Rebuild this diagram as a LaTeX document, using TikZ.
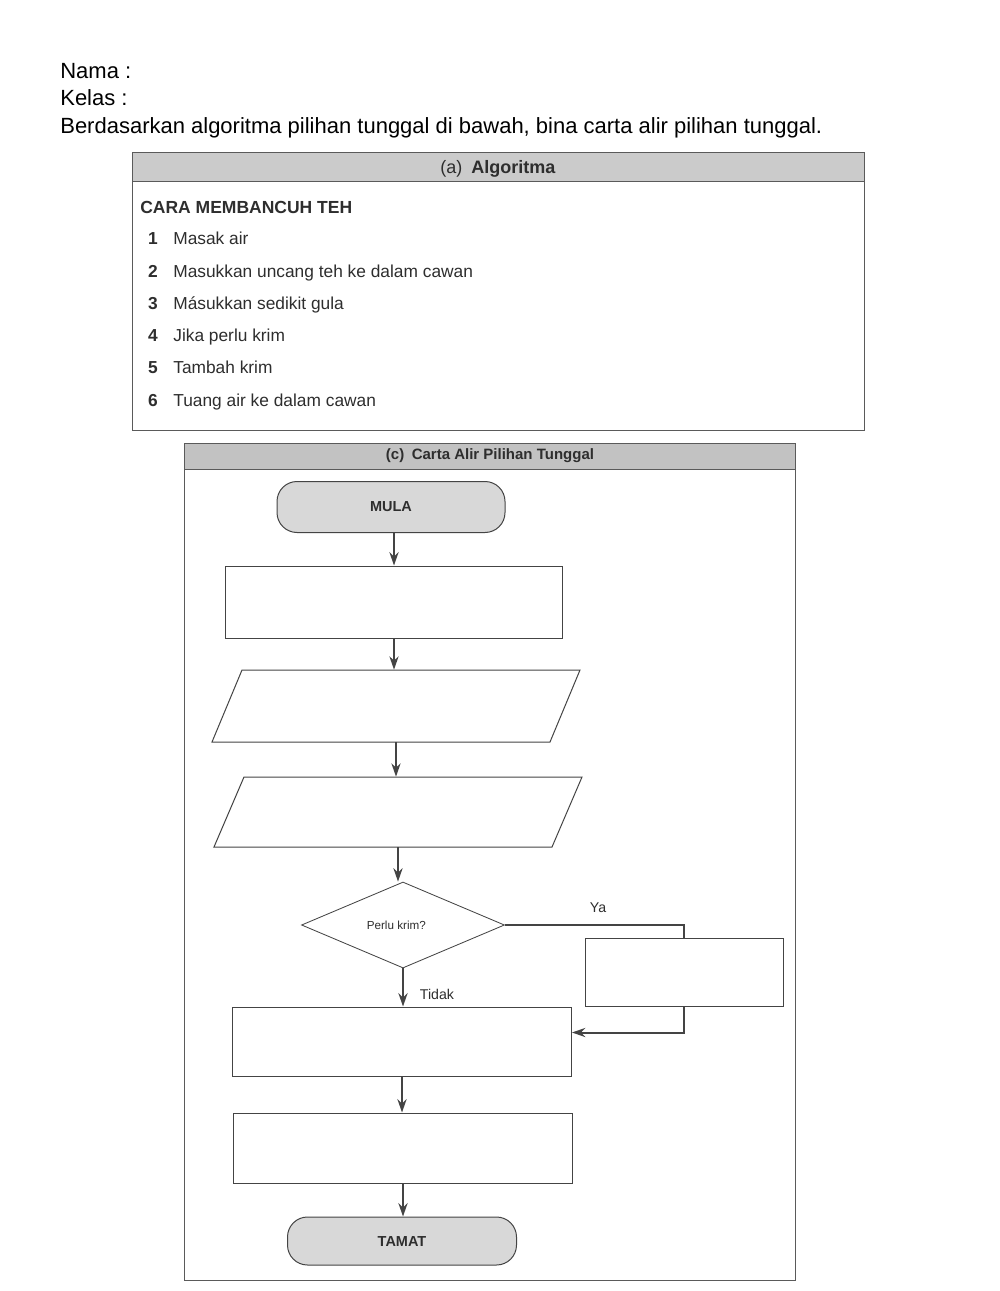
\documentclass[tikz,border=0pt]{standalone}
\usepackage{fontspec}
\setmainfont{Liberation Sans}
\usetikzlibrary{shapes.geometric,arrows.meta,calc}
\definecolor{linec}{HTML}{444444}
\definecolor{framec}{HTML}{5A5A5A}
\definecolor{textc}{HTML}{2E2E2E}
\definecolor{headA}{HTML}{CBCBCB}
\definecolor{headC}{HTML}{C2C2C2}
\definecolor{termfill}{HTML}{D8D8D8}
\tikzset{
  boxline/.style={draw=linec, line width=0.6pt},
  frameline/.style={draw=framec, line width=0.6pt},
  procbox/.style={draw=linec, line width=0.6pt, fill=white, inner sep=0pt},
  termbox/.style={draw=linec, line width=0.6pt, fill=termfill, rounded corners=12pt, inner sep=0pt,
     text=textc, font=\fontsize{8.7}{10}\selectfont\bfseries},
  decbox/.style={diamond, draw=linec, line width=0.5pt, fill=white, inner sep=0pt,
     text=textc, font=\fontsize{7}{8}\selectfont},
  anchorbox/.style={inner sep=0pt, draw=none},
  flowarr/.style={draw=linec, line width=1.2pt, -{Stealth[length=8pt,width=5.5pt]}},
  flowline/.style={draw=linec, line width=1.2pt},
  itemtxt/.style={anchor=mid west, inner sep=0pt, text=textc, font=\fontsize{10.4}{12}\selectfont},
  itemnum/.style={anchor=mid, inner sep=0pt, text=textc, font=\fontsize{10.4}{12}\selectfont\bfseries},
  toptxt/.style={anchor=mid west, inner sep=0pt, text=black, font=\fontsize{13.2}{16}\selectfont},
  lbltxt/.style={inner sep=0pt, text=textc, font=\fontsize{8.5}{10}\selectfont},
}
\begin{document}
\begin{tikzpicture}[x=0.6pt, y=-0.6pt]
\useasboundingbox (0,0) rectangle (1000,1291);
\fill[white] (0,0) rectangle (1000,1291);

% header text
\node[toptxt] (nama) at (60,74) {Nama :};
\node[toptxt] (kelas) at (60,101) {Kelas :};
\node[toptxt] (instr) at (60,129) {Berdasarkan algoritma pilihan tunggal di bawah, bina carta alir pilihan tunggal.};

% algorithm box
\fill[headA] (132,153) rectangle (864,182);
\draw[frameline] (132,182) -- (864,182);
\draw[frameline] (132,153) rectangle (864,430);
\node[inner sep=0pt, text=textc, font=\fontsize{10.8}{12}\selectfont] (algtitle) at (498,169) {(a)\enspace\textbf{Algoritma}};
\node[anchor=mid west, inner sep=0pt, text=textc, font=\fontsize{10.5}{12}\selectfont\bfseries] (cara) at (140,209) {CARA MEMBANCUH TEH};
\node[itemnum] (n1) at (153,240) {1};
\node[itemtxt] (t1) at (173,240) {Masak air};
\node[itemnum] (n2) at (153,273) {2};
\node[itemtxt] (t2) at (173,273) {Masukkan uncang  teh ke dalam cawan};
\node[itemnum] (n3) at (153,305) {3};
\node[itemtxt] (t3) at (173,305) {Másukkan sedikit gula};
\node[itemnum] (n4) at (153,337) {4};
\node[itemtxt] (t4) at (173,337) {Jika perlu krim};
\node[itemnum] (n5) at (153,369) {5};
\node[itemtxt] (t5) at (173,369) {Tambah krim};
\node[itemnum] (n6) at (153,402) {6};
\node[itemtxt] (t6) at (173,402) {Tuang air ke dalam cawan};

% flowchart frame
\fill[headC] (184,443) rectangle (795,469);
\draw[frameline] (184,469) -- (795,469);
\draw[frameline] (184,443) rectangle (795,1280);
\node[inner sep=0pt, text=textc, font=\fontsize{9}{11}\selectfont\bfseries] (fctitle) at (490,456) {(c)\enspace Carta Alir Pilihan Tunggal};

% nodes
\node[termbox, minimum width=136.8pt, minimum height=30.6pt] (mula) at (391,507) {MULA};
\node[procbox, minimum width=202.2pt, minimum height=43.2pt] (r1) at (394,602) {};
% parallelogram 1
\draw[boxline, fill=white] (242,670) -- (580,670) -- (550,742) -- (212,742) -- cycle;
\node[anchorbox, minimum width=202.8pt, minimum height=43.2pt] (p1) at (396,706) {};
% parallelogram 2
\draw[boxline, fill=white] (244,777) -- (582,777) -- (552,847) -- (214,847) -- cycle;
\node[anchorbox, minimum width=202.8pt, minimum height=42pt] (p2) at (398,812) {};
\node[decbox, minimum width=121.8pt, minimum height=51.6pt] (dec) at (403,925) {\hspace*{-8pt}Perlu krim?};
\node[procbox, minimum width=118.8pt, minimum height=40.8pt] (yb) at (684,972) {};
\node[procbox, minimum width=203.4pt, minimum height=41.4pt] (r3) at (402,1041.5) {};
\node[procbox, minimum width=203.4pt, minimum height=42pt] (r4) at (403,1148) {};
\node[termbox, minimum width=137.4pt, minimum height=28.8pt] (tamat) at (402,1241) {TAMAT};

% connectors
\draw[flowarr] (mula.south -| r1.north) -- (r1.north);
\draw[flowarr] (r1.south) -- (r1.south |- p1.north);
\draw[flowarr] (p1.south) -- (p1.south |- p2.north);
\draw[flowarr] (p2.south) -- (p2.south |- dec.north);
\draw[flowarr] (dec.south) -- (dec.south |- r3.north);
\draw[flowarr] (r3.south) -- (r3.south |- r4.north);
\draw[flowarr] (r4.south) -- (r4.south |- tamat.north);
\draw[flowline] (dec.east) -| (yb.north);
\draw[flowarr] (yb.south) |- ([yshift=5.4pt]r3.east);

% labels
\node[lbltxt] (ya) at (598,908) {Ya};
\node[lbltxt] (tidak) at (437,994) {Tidak};
\end{tikzpicture}
\end{document}
